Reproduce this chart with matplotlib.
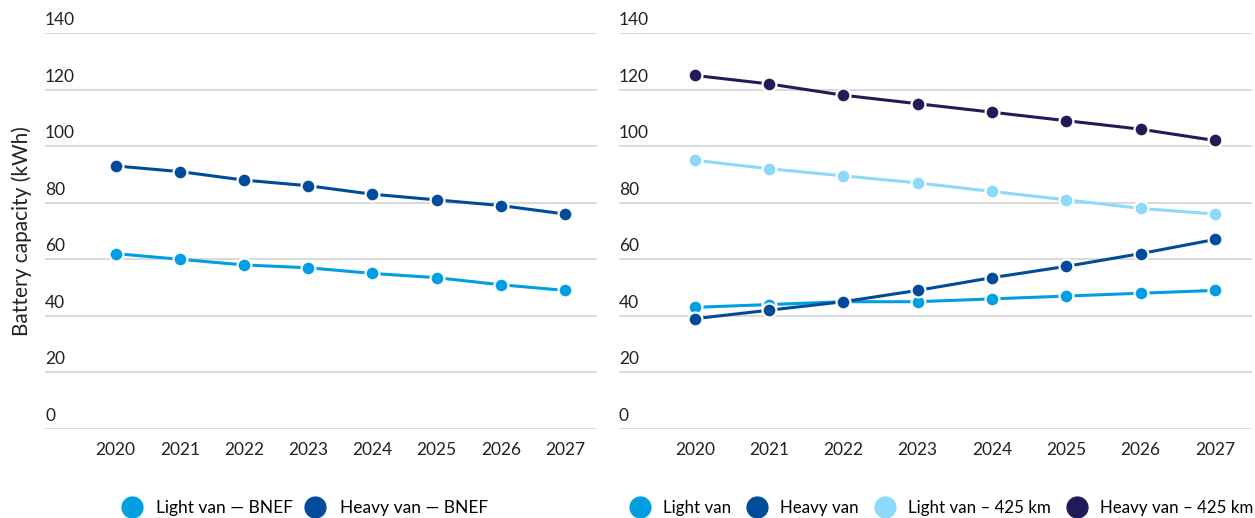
import matplotlib.pyplot as plt
from matplotlib.lines import Line2D
from matplotlib import transforms

plt.rcParams['font.family'] = ['Lato', 'DejaVu Sans']

years = [2020, 2021, 2022, 2023, 2024, 2025, 2026, 2027]

# left panel: BNEF
light_bnef = [62, 60, 58, 57, 55, 53.5, 51, 49]
heavy_bnef = [93, 91, 88, 86, 83, 81, 79, 76]

# right panel
light_van = [43, 44, 45, 45, 46, 47, 48, 49]
heavy_van = [39, 42, 45, 49, 53.5, 57.5, 62, 67]
light_425 = [95, 92, 89.5, 87, 84, 81, 78, 76]
heavy_425 = [125, 122, 118, 115, 112, 109, 106, 102]

yticks = [0, 20, 40, 60, 80, 100, 120, 140]

c_light = '#009FE3'
c_heavy = '#004B9A'
c_light425 = '#8CD9FB'
c_heavy425 = '#201C5A'
grid_c = '#d9d9d9'
text_c = '#222222'

fig = plt.figure(figsize=(12.55, 5.18), dpi=100)
ax1 = fig.add_axes([0.0359, 0.1718, 0.4398, 0.7645])
ax2 = fig.add_axes([0.4932, 0.1718, 0.5044, 0.7645])

x = list(range(len(years)))


def style(ax, xleft):
    ax.set_ylim(0, 140)
    ax.set_xlim(xleft, 7.5)
    for s in ax.spines.values():
        s.set_visible(False)
    ax.set_yticks(yticks)
    ax.set_yticklabels([])
    ax.tick_params(axis='y', length=0)
    ax.grid(axis='y', color=grid_c, linewidth=1.4)
    ax.set_axisbelow(True)
    ax.set_xticks(x)
    ax.set_xticklabels([str(y) for y in years], fontsize=12.5, color=text_c)
    ax.tick_params(axis='x', length=0, pad=9)
    trans = transforms.blended_transform_factory(ax.transAxes, ax.transData)
    for v in yticks:
        t = ax.text(0.0, v, str(v), transform=trans, fontsize=12.5,
                    color=text_c, ha='left', va='bottom', clip_on=False)
        t.set_transform(trans + transforms.ScaledTranslation(0, 5 / 100, fig.dpi_scale_trans))


def series(ax, vals, color):
    ax.plot(x, vals, color=color, linewidth=2.2, marker='o', markersize=10,
            markerfacecolor=color, markeredgecolor='white', markeredgewidth=1.6,
            zorder=3)


style(ax1, -1.1)
style(ax2, -1.02)

series(ax1, light_bnef, c_light)
series(ax1, heavy_bnef, c_heavy)

series(ax2, light_van, c_light)
series(ax2, heavy_van, c_heavy)
series(ax2, light_425, c_light425)
series(ax2, heavy_425, c_heavy425)

ax1.set_ylabel('Battery capacity (kWh)', fontsize=15, color=text_c, labelpad=6)


def handle(color):
    return Line2D([], [], linestyle='none', marker='o', markersize=15,
                  markerfacecolor=color, markeredgecolor=color)


ax1.legend([handle(c_light), handle(c_heavy)],
           ['Light van — BNEF', 'Heavy van — BNEF'],
           loc='center', bbox_to_anchor=(0.47, -0.2), ncol=2, frameon=False,
           fontsize=12.5, handlelength=1.2, handletextpad=0.8, columnspacing=0.7)
ax2.legend([handle(c_light), handle(c_heavy), handle(c_light425), handle(c_heavy425)],
           ['Light van', 'Heavy van', 'Light van – 425 km', 'Heavy van – 425 km'],
           loc='center right', bbox_to_anchor=(1.005, -0.2), ncol=4, frameon=False,
           fontsize=12.2, handlelength=1.2, handletextpad=0.75, columnspacing=0.95,
           borderpad=0.1, borderaxespad=0)

fig.savefig('out.png', dpi=100)
